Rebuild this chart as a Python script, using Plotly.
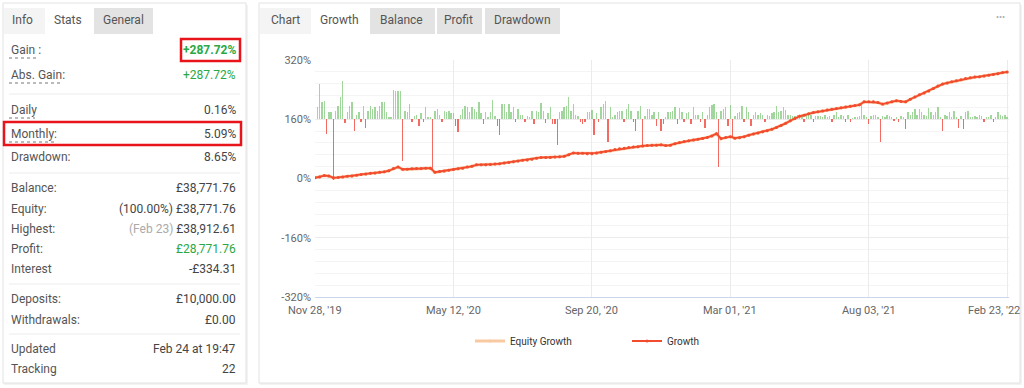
import plotly.graph_objects as go

W, H = 1024, 388
def X(px): return px / W
def Y(py): return 1 - py / H

# ---------------- data ----------------
tick_idx = [0, 30, 60, 90, 120, 150]
tick_labels = ["Nov 28, '19", "May 12, '20", "Sep 20, '20", "Mar 01, '21", "Aug 03, '21", "Feb 23, '22"]
y_tickvals = [-320, -160, 0, 160, 320]
y_ticktext = ["-320%", "-160%", "0%", "160%", "320%"]

growth = [2, 4, 8, 7, 2, 3, 4, 6, 7, 9,
          11, 12, 14, 15, 17, 18, 21, 27, 31, 25,
          25, 26, 27, 27, 28, 28, 17, 19, 20, 22,
          24, 26, 28, 31, 33, 37, 37, 37, 38, 39,
          40, 42, 43, 45, 47, 49, 50, 52, 55, 57,
          57, 57, 58, 59, 60, 64, 69, 68, 68, 67,
          67, 69, 71, 73, 75, 78, 80, 82, 84, 85,
          86, 88, 89, 90, 90, 91, 89, 90, 94, 97,
          100, 102, 104, 106, 108, 111, 115, 121, 108, 111,
          113, 109, 110, 113, 117, 120, 123, 126, 129, 133,
          138, 143, 149, 156, 162, 168, 171, 175, 178, 180,
          182, 185, 187, 189, 191, 193, 195, 197, 199, 207,
          207, 207, 205, 201, 204, 207, 210, 208, 207, 214,
          220, 226, 231, 236, 243, 250, 255, 258, 261, 264,
          267, 270, 272, 274, 275, 277, 279, 281, 283, 286,
          287.72]

equity_growth = [2, 4, 8, 7, 1, 3, 4, 6, 7, 9,
                 11, 12, 14, 15, 17, 18, 21, 27, 31, 24,
                 25, 26, 27, 27, 28, 28, 16, 19, 20, 22,
                 24, 26, 28, 31, 33, 37, 37, 37, 38, 39,
                 40, 42, 43, 45, 47, 49, 50, 52, 55, 57,
                 57, 57, 58, 59, 60, 64, 69, 68, 68, 67,
                 67, 69, 71, 73, 75, 78, 80, 82, 84, 85,
                 86, 88, 89, 90, 90, 91, 89, 90, 94, 97,
                 100, 102, 104, 106, 108, 111, 115, 121, 107, 111,
                 113, 109, 110, 113, 117, 120, 123, 126, 129, 133,
                 138, 143, 149, 156, 162, 168, 171, 175, 178, 180,
                 182, 185, 187, 189, 191, 193, 195, 197, 199, 207,
                 207, 207, 205, 200, 204, 207, 210, 208, 207, 214,
                 220, 226, 231, 236, 243, 250, 255, 258, 261, 264,
                 267, 270, 272, 274, 275, 277, 279, 281, 283, 286,
                 287.72]

daily_gain = [0, 0.2, 0.6, 0.29, 0.3, -0.25, 0.12, 0.12, -1.02, 0.14,
              0.22, 0.37, 0.64, -0.06, 0.12, 0.22, 0.29, -0.2, 0.08, 0.12,
              -0.04, 0.22, -0.14, 0.14, 0.22, 0.17, 0.2, 0.14, 0.22, 0.29,
              0.29, 0.12, 0.03, 0.03, 0.49, 0.48, 0.48, 0.48, -0.71, 0.14,
              0.12, 0.25, -0.05, 0.05, 0.07, -0.12, 0.1, -0.05, 0.2, 0.03,
              0.03, -0.88, 0.14, 0.17, 0.08, -0.05, 0.14, 0.12, 0.14, 0.1,
              0.1, -0.12, -0.22, 0.08, 0.17, 0.22, 0.2, 0.12, 0.2, 0.17,
              0.12, 0.29, 0.1, -0.08, 0.12, 0.03, 0.12, 0.32, 0.05, -0.12,
              -0.27, 0.25, 0.25, 0.12, 0.25, 0.12, 0.2, -0.04, 0.17, 0.08,
              0.08, -0.04, 0.05, 0.03, 0.14, -0.08, 0.14, 0.12, 0.27, 0.14,
              -0.07, 0.1, 0.2, -0.08, -0.08, -0.44, 0.12, 0.14, 0.2, 0.22,
              0.37, 0.14, 0.25, 0.08, 0.05, -0.05, -0.08, -0.04, 0.12, 0.12,
              0.15, -0.27, 0.1, -0.05, 0.2, 0.25, 0.3, -0.39, 0.2, 0.03,
              0.08, 0.12, 0.14, 0.14, -0.05, 0.17, 0.25, 0.14, -0.04, -0.2,
              0.14, 0.22, -0.46, 0.05, 0.17, 0.17, 0.08, 0.12, -0.12, 0.12,
              -0.2, -0.08, 0.03, 0.12, 0.12, 0.14, 0.2, -0.08, 0.19, 0.12,
              -0.05, 0.1, 0.12, -0.08, 0.2, 0.08, 0.08, -0.04, 0.12, -0.14,
              0.08, 0.2, 0.24, 0.25, 0.12, -0.81, 0.14, 0.17, 0.2, -0.12,
              0.24, -0.31, 0.05, 0.1, 0.12, 0.22, -0.04, 0.2, 0.12, -0.12,
              0.08, 0.12, 0.08, 0.1, 0.08, -0.04, 0.08, 0.05, 0.1, 0.12,
              0.22, 0.12, 0.14, 0.2, 0.15, 0.08, 0.08, 0.05, 0.05, 0.08,
              0.05, 0.08, -0.04, 0.08, 0.08, 0.08, -0.05, 0.05, 0.05, 0.05,
              0.03, 0.08, 0.03, 0.05, -0.04, 0.08, 0.12, 0.03, 0.08, 0.05,
              -0.04, 0.08, -0.04, 0.02, 0.03, 0.03, 0.05, 0.25, 0.08, 0.03,
              -0.08, 0.05, 0.08, 0.08, 0.03, -0.39, 0.05, 0.03, 0.08, 0.05,
              0.03, -0.03, 0.03, -0.05, 0.05, 0.03, -0.17, 0.12, 0.08, 0.12,
              0.17, 0.08, 0.17, 0.12, 0.08, 0.05, 0.19, 0.12, 0.08, 0.12,
              0.2, 0.03, -0.2, 0.08, 0.05, 0.12, 0.03, 0.14, 0.03, -0.14,
              0.05, -0.17, 0.12, 0.14, 0.03, 0.03, 0.05, 0.03, 0.08, 0.05,
              -0.04, 0.03, 0.03, 0.08, -0.04, 0.03, 0.12, 0.08, 0.05, 0.08,
              0.03]

stats_labels = ["Gain :", "Abs. Gain:", "Daily", "Monthly:", "Drawdown:",
                "Balance:", "Equity:", "Highest:", "Profit:", "Interest",
                "Deposits:", "Withdrawals:", "Updated", "Tracking"]
stats_values = ["+287.72%", "+287.72%", "0.16%", "5.09%", "8.65%",
                "£38,771.76", "£38,771.76", "£38,912.61", "£28,771.76", "-£334.31",
                "£10,000.00", "£0.00", "Feb 24 at 19:47", "22"]
stats_prefix = ["", "", "", "", "", "", "(100.00%) ", "<span style='color:#aaaaaa'>(Feb 23)</span> ",
                "", "", "", "", "", ""]
stats_rows_y = [50, 75, 110, 134, 157, 188, 209, 229, 249, 269, 299, 320, 349, 369]
green_rows = {0, 1, 8}
underlined = {0: 37, 1: 61, 2: 35, 3: 54}

left_tabs = ["Info", "Stats", "General"]
right_tabs = ["Chart", "Growth", "Balance", "Profit", "Drawdown"]

# ---------------- figure ----------------
FONT = "Roboto, 'Open Sans', sans-serif"
fig = go.Figure()

idx = list(range(len(growth)))
# equity growth sits on the primary axis (drawn underneath)
fig.add_trace(go.Scatter(x=idx, y=equity_growth, yaxis="y", name="Equity Growth",
                         mode="lines+markers",
                         line=dict(color="#f9c9a2", width=3),
                         marker=dict(size=3, color="#f9c9a2")))

bar_x = [k * 0.5 for k in range(len(daily_gain))]
bar_colors = ["rgba(98,186,92,0.6)" if v >= 0 else "rgba(240,70,60,0.8)" for v in daily_gain]
fig.add_trace(go.Bar(x=bar_x, y=daily_gain, yaxis="y2", width=0.3,
                     marker=dict(color=bar_colors, line=dict(width=0)),
                     showlegend=False, hoverinfo="skip"))

fig.add_trace(go.Scatter(x=idx, y=growth, yaxis="y3", name="Growth",
                         mode="lines+markers",
                         line=dict(color="#f24b2e", width=1.8),
                         marker=dict(size=3, color="#f24b2e")))

xdom = [X(315), X(1009)]
ydom = [Y(297), Y(60)]
xrange = [0, 150.4]

fig.update_layout(
    width=W, height=H, autosize=False,
    margin=dict(l=0, r=0, t=0, b=0, autoexpand=False),
    paper_bgcolor="white", plot_bgcolor="rgba(0,0,0,0)",
    font=dict(family=FONT, size=11, color="#555"),
    bargap=0,
    xaxis=dict(domain=xdom, range=xrange, tickvals=tick_idx, showticklabels=False,
               showgrid=True, gridcolor="#ebebeb", gridwidth=1,
               showline=True, linecolor="#ccd6eb", linewidth=1,
               zeroline=False, ticks="", fixedrange=True, automargin=False),
    yaxis=dict(domain=ydom, range=[-320, 320], tickvals=y_tickvals, ticktext=y_ticktext,
               showgrid=True, gridcolor="#ececec", zeroline=False,
               tickfont=dict(size=11, color="#666"), ticks="", automargin=False,
               ticklabelstandoff=3,
               minor=dict(dtick=32, tick0=0, showgrid=True, gridcolor="#f4f4f4"),
               fixedrange=True),
    yaxis2=dict(domain=ydom, overlaying="y", range=[-3, 1], visible=False, fixedrange=True),
    yaxis3=dict(domain=ydom, overlaying="y", range=[-320, 320], visible=False, fixedrange=True),
    legend=dict(orientation="h", x=X(470), y=Y(341), xanchor="left", yanchor="middle",
                font=dict(size=10, color="#333"), itemwidth=30,
                entrywidth=112, entrywidthmode="pixels", bgcolor="rgba(0,0,0,0)"),
)

shapes = []
anns = []

def rect(x0, y0, x1, y1, fill="white", line="#e4e4e4", lw=1, layer="below"):
    shapes.append(dict(type="rect", xref="paper", yref="paper",
                       x0=X(x0), x1=X(x1), y0=Y(y1), y1=Y(y0),
                       fillcolor=fill, line=dict(color=line, width=lw), layer=layer))

def hline(x0, x1, y, color="#ebebeb", dash="solid", lw=1):
    shapes.append(dict(type="line", xref="paper", yref="paper",
                       x0=X(x0), x1=X(x1), y0=Y(y), y1=Y(y),
                       line=dict(color=color, width=lw, dash=dash), layer="above"))

def text(px, py, s, anchor="left", size=12, color="#555"):
    anns.append(dict(xref="paper", yref="paper", x=X(px), y=Y(py), text=s,
                     showarrow=False, xanchor=anchor, yanchor="middle",
                     font=dict(size=size, color=color, family=FONT)))

# panels (with faint shadow)
rect(4, 5, 248, 385, fill="#f3f3f3", line="rgba(0,0,0,0)")
rect(260, 5, 1022, 385, fill="#f3f3f3", line="rgba(0,0,0,0)")
rect(3, 3, 246, 383, fill="white", line="#e2e2e2")
rect(259, 3, 1020, 383, fill="white", line="#e2e2e2")

# left tabs
left_tab_box = [(4, 45, "#f4f4f4"), (45, 92, "white"), (94, 153, "#e3e3e3")]
left_tab_cx = [22, 68, 123]
for (x0, x1, c), name, cx in zip(left_tab_box, left_tabs, left_tab_cx):
    rect(x0, 8, x1, 34, fill=c, line="rgba(0,0,0,0)")
    text(cx, 20, name, anchor="center", size=12, color="#555")

# right tabs
right_tab_box = [(260, 311, "#f4f4f4"), (311, 368, "white"), (370, 435, "#e3e3e3"),
                 (437, 482, "#e3e3e3"), (485, 560, "#e3e3e3")]
right_tab_cx = [285, 339, 401, 458, 522]
for (x0, x1, c), name, cx in zip(right_tab_box, right_tabs, right_tab_cx):
    rect(x0, 8, x1, 34, fill=c, line="rgba(0,0,0,0)")
    text(cx, 20, name, anchor="center", size=12, color="#555")
text(1000, 17, "•••", anchor="center", size=9, color="#aaa")

# separators in stats panel
for sy in [94, 173, 284, 334]:
    hline(9, 240, sy, color="#ececec")

# stats rows
for i, (lab, val, pre, ry) in enumerate(zip(stats_labels, stats_values, stats_prefix, stats_rows_y)):
    text(9, ry, lab, anchor="left", size=12, color="#555")
    vcol = "#2aa845" if i in green_rows else "#444"
    vtxt = ("<b>" + val + "</b>") if i == 0 else val
    text(238, ry, pre + vtxt, anchor="right", size=12, color=vcol)
    if i in underlined:
        hline(9, underlined[i], ry + 8, color="#777", dash="dot", lw=1)

# red highlight boxes
rect(181, 39, 240, 61, fill="rgba(0,0,0,0)", line="#e8141a", lw=2.5, layer="above")
rect(4, 122, 241, 145, fill="rgba(0,0,0,0)", line="#e8141a", lw=2.5, layer="above")

# x tick labels placed on the x axis scale
for i, (tv, tl) in enumerate(zip(tick_idx, tick_labels)):
    last = i == len(tick_idx) - 1
    anns.append(dict(xref="x", yref="paper", x=tv, y=Y(310), text=tl, showarrow=False,
                     xanchor="right" if last else "center", yanchor="middle",
                     xshift=15 if last else 0,
                     font=dict(size=11, color="#666", family=FONT)))

fig.update_layout(shapes=shapes, annotations=anns)
fig.write_html("out.html", config={"displayModeBar": False},
               post_script="document.body.style.margin='0';document.body.style.overflow='hidden';")
